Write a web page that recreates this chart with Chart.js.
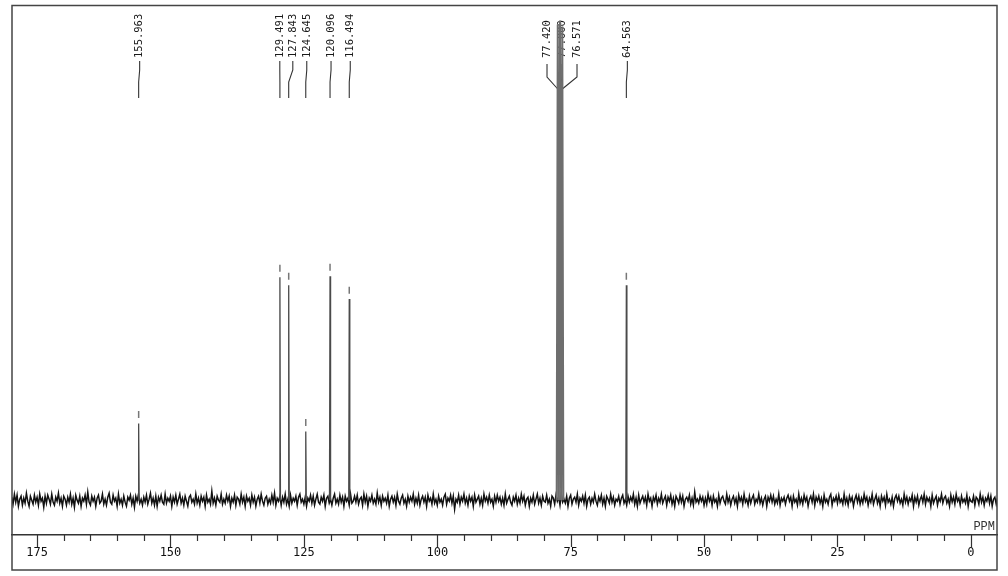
<!DOCTYPE html>
<html><head><meta charset="utf-8">
<script src="https://cdn.jsdelivr.net/npm/chart.js@4.4.1/dist/chart.umd.min.js"></script>
<style>html,body{margin:0;padding:0;background:#fff}#wrap{width:1008px;height:576px}</style>
</head><body><div id="wrap"><canvas id="c" width="1008" height="576"></canvas></div>
<script>
// ---- data ----
const peakPpm    = [155.963, 129.491, 127.843, 124.645, 120.096, 116.494, 64.563];
const peakHeight = [77, 224, 216, 69, 225, 202, 216];
const solventPpm    = [77.420, 77.000, 76.571];
const solventHeight = [478, 482, 476];
const peakLabels = ['155.963','129.491','127.843','124.645','120.096','116.494','77.420','77.000','76.571','64.563'];
const labelPpm   = [155.963, 129.491, 127.843, 124.645, 120.096, 116.494, 77.420, 77.000, 76.571, 64.563];
const xTickLabels = [175, 150, 125, 100, 75, 50, 25, 0];
const minorTicks = [175,170,165,160,155,150,145,140,135,130,125,120,115,110,105,100,95,90,85,80,75,70,65,60,55,50,45,40,35,30,25,20,15,10,5,0];
const axisTitle = 'PPM';
const noiseStartPpm = 179.75;
const noiseStepPpm = 0.25;
const noise = [
3,-4,6,-2,5,-6,1,4,-5,2,-3,7,-1,-6,4,0,-4,5,-2,3,
-5,6,-1,2,-7,4,-3,5,1,-4,6,-2,-5,3,-1,7,-3,2,-6,4,
1,-5,3,-2,6,-4,2,-7,5,0,-3,4,-6,2,-1,5,-4,8,-2,-5,
4,-1,3,-6,2,5,-3,-1,6,-4,1,-5,3,7,-2,-4,5,-1,2,-6,
6,-3,1,-5,4,-2,-6,3,0,5,-4,2,-7,4,-1,6,-3,1,-5,3,
-2,5,-4,1,7,-3,2,-5,4,-6,3,-1,5,-2,-4,6,-3,2,-1,4,
-6,3,-2,5,-4,1,6,-3,2,-5,4,-1,-6,3,5,-2,1,-4,6,-3,
2,-5,4,-1,3,-6,5,-2,1,-4,9,-3,2,-5,4,0,-2,6,-4,1,
-3,5,-1,4,-6,2,-2,5,-5,3,1,-4,6,-2,3,-6,4,-1,2,-5,
5,-2,3,-6,1,4,-3,6,-1,-5,2,4,-4,1,-3,5,-2,7,-5,2,
-1,4,-5,3,-2,6,-4,1,-6,5,-3,2,-1,4,-5,3,6,-2,1,-4,
3,-6,2,-1,5,-3,4,-5,1,6,-2,-4,3,-1,5,-6,2,4,-3,1,
-5,2,6,-3,1,-4,5,-2,3,-6,4,-1,2,-5,6,-3,-1,4,-2,5,
-4,1,3,-5,6,-2,4,-6,2,-1,5,-3,1,-4,7,-2,3,-5,4,-1,
2,-3,5,-6,1,4,-2,3,-5,6,-1,-4,2,5,-3,1,-6,4,-2,3,
-1,6,-4,2,-3,5,-5,1,4,-2,3,-6,5,-1,2,-4,6,-3,1,-5,
4,-2,1,-5,3,6,-4,2,-1,5,-3,4,-9,1,-2,5,-4,3,-1,6,
-3,2,-5,4,-1,3,-6,5,-2,1,4,-4,2,-5,6,-1,3,-3,5,-2,
1,-6,4,-2,5,-1,3,-4,2,-5,6,-3,1,4,-2,-5,3,-1,5,-4,
2,-3,6,-1,4,-5,1,3,-6,2,-2,5,-4,1,6,-3,2,-5,4,-1,
-2,5,-3,1,-6,4,2,-4,5,-1,3,-5,6,-2,1,-3,4,-6,2,5,
-4,1,3,-2,6,-5,2,-1,4,-3,5,-6,1,3,-4,2,-2,6,-1,-5,
3,-1,5,-4,2,-6,4,1,-3,6,-2,3,-5,1,-1,4,-4,2,5,-3,
1,-5,4,-2,3,-1,6,-4,2,-6,5,-3,1,4,-2,3,-5,6,-1,2,
-6,3,-1,5,-4,2,-2,6,-3,1,4,-5,3,-1,5,-4,2,-6,4,1,
-3,5,-2,4,-6,1,3,-1,5,-4,2,-5,8,-2,1,-3,4,-1,3,-5,
2,-4,6,-1,3,-5,4,-2,1,-6,5,-3,2,4,-1,-4,6,-2,3,-5,
1,4,-3,2,-6,5,-1,3,-4,6,-2,1,-5,4,-3,2,5,-4,1,-2,
6,-3,2,-5,1,4,-6,3,-1,5,-2,4,-4,1,-3,6,-5,2,-1,3,
-4,2,5,-1,3,-6,4,-2,1,-5,6,-3,2,-4,5,-1,3,-6,1,4,
-2,6,-5,3,-1,4,-3,2,-6,5,-2,1,-4,3,6,-5,2,-1,4,-3,
5,-2,1,-4,6,-3,2,-5,4,-1,3,-6,1,5,-2,4,-4,2,-3,6,
-1,3,-5,2,-2,6,-4,1,5,-3,2,-6,4,-1,3,-5,6,-2,1,-4,
3,-6,2,5,-1,4,-3,1,-5,6,-2,3,-4,2,-1,5,-6,3,-2,4,
-5,1,4,-2,6,-4,3,-1,2,-6,5,-3,1,4,-5,2,-1,6,-3,2,
4,-3,1,-6,5,-2,3,-4,6,-1,2,-5,4,-2,1,-3,5,-6,2,-1,
-2,4,-5,3,1,-4,6,-2,3,-5,2,-1,5,-3,4,-6,1,3,-4,2
];

// ---- build library tables from the arrays ----
const noiseData = noise.map((v, i) => ({x: noiseStartPpm - i * noiseStepPpm, y: v}));
function peakTable(ppm, h, half) {
  const out = [];
  ppm.forEach((p, i) => {
    out.push({x: p + half, y: 0}, {x: p, y: h[i]}, {x: p - half, y: 0}, {x: p - half, y: null});
  });
  return out;
}
const peakData = peakTable(peakPpm, peakHeight, 0.1);
const solventData = peakTable(solventPpm, solventHeight, 0.2);
const markerData = peakPpm.map((p, i) => ({x: p, y: peakHeight[i] + 9}));

const MONO = '"DejaVu Sans Mono", "Liberation Mono", monospace';

const decor = {
  id: 'decor',
  beforeDatasetsDraw(chart) {
    const ctx = chart.ctx, xs = chart.scales.x;
    const items = labelPpm.map((p, i) => ({p, t: peakLabels[i], px: xs.getPixelForValue(p), solv: solventPpm.includes(p)}))
      .sort((a, b) => a.px - b.px);
    const gap = 13;
    let i = 0;
    while (i < items.length) {
      let j = i;
      while (j + 1 < items.length && items[j + 1].px - items[j].px < gap) j++;
      const n = j - i + 1;
      if (n === 1) items[i].lx = items[i].px + 1;
      else {
        let c = 0; for (let k = i; k <= j; k++) c += items[k].px; c /= n;
        for (let k = i; k <= j; k++) items[k].lx = c + 2 + (k - i - (n - 1) / 2) * (items[i].solv ? 15 : gap);
      }
      i = j + 1;
    }
    ctx.save();
    ctx.font = '10.5px ' + MONO;
    ctx.fillStyle = '#1a1a1a';
    ctx.strokeStyle = '#333';
    ctx.lineWidth = 1.1;
    items.forEach(it => {
      ctx.save();
      ctx.translate(it.lx, 58);
      ctx.rotate(-Math.PI / 2);
      ctx.textAlign = 'left';
      ctx.textBaseline = 'middle';
      ctx.fillText(it.t, 0, 0);
      ctx.restore();
      ctx.beginPath();
      if (it.solv) {
        ctx.moveTo(it.lx, 64); ctx.lineTo(it.lx, 77); ctx.lineTo(it.px, 89);
      } else {
        ctx.moveTo(it.lx, 61); ctx.lineTo(it.lx, 70); ctx.lineTo(it.px, 82); ctx.lineTo(it.px, 98);
      }
      ctx.stroke();
    });
    ctx.restore();
  },
  afterDraw(chart) {
    const ctx = chart.ctx, xs = chart.scales.x, a = chart.chartArea;
    ctx.save();
    ctx.strokeStyle = '#444';
    ctx.lineWidth = 1.5;
    ctx.strokeRect(a.left, a.top, a.right - a.left, chart.height - 6 - a.top);
    ctx.strokeStyle = '#333';
    ctx.lineWidth = 1.2;
    ctx.beginPath();
    minorTicks.forEach(v => {
      const x = Math.round(xs.getPixelForValue(v)) + 0.5;
      const len = xTickLabels.includes(v) ? 12 : 6;
      ctx.moveTo(x, a.bottom); ctx.lineTo(x, a.bottom + len);
    });
    ctx.stroke();
    ctx.fillStyle = '#333';
    ctx.font = '12px "Liberation Mono", monospace';
    ctx.textAlign = 'right';
    ctx.textBaseline = 'bottom';
    ctx.fillText(axisTitle, a.right - 2, a.bottom - 2);
    ctx.restore();
  }
};

new Chart(document.getElementById('c'), {
  type: 'scatter',
  data: {
    datasets: [
      {data: solventData, showLine: true, borderColor: '#6e6e6e', borderWidth: 2, pointRadius: 0, spanGaps: false},
      {data: peakData, showLine: true, borderColor: '#4a4a4a', borderWidth: 1.3, pointRadius: 0, spanGaps: false},
      {data: markerData, showLine: false, pointStyle: 'line', rotation: 90, pointRadius: 3.5, borderColor: '#777', borderWidth: 1.5},
      {data: noiseData, showLine: true, borderColor: '#111', borderWidth: 1.5, pointRadius: 0}
    ]
  },
  options: {
    responsive: false,
    animation: false,
    events: [],
    devicePixelRatio: 1,
    layout: {padding: {top: 3, left: 12, right: 11, bottom: 6}},
    plugins: {legend: {display: false}, tooltip: {enabled: false}},
    scales: {
      x: {
        type: 'linear',
        reverse: true,
        min: -4.9,
        max: 179.7,
        afterBuildTicks: s => { s.ticks = xTickLabels.map(v => ({value: v})); },
        afterFit: s => { s.height = 35; },
        grid: {display: false, drawTicks: false},
        border: {display: true, color: '#333', width: 1.5},
        ticks: {autoSkip: false, maxRotation: 0, padding: 11, color: '#111', font: {family: MONO, size: 12}}
      },
      y: {
        type: 'linear',
        display: false,
        min: -35,
        max: 497
      }
    }
  },
  plugins: [decor]
});
</script>
</body></html>
